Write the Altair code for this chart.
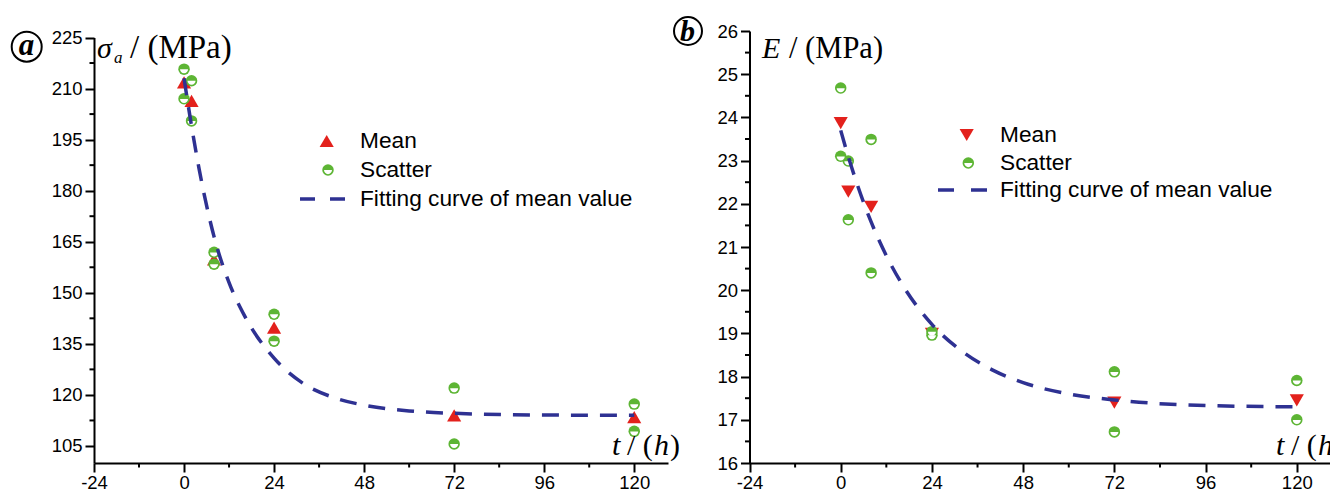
import altair as alt
import pandas as pd

# ---------------- data ----------------
t_pts = [0, 0, 2, 2, 8, 8, 24, 24, 72, 72, 120, 120]
t_mean = [0, 2, 8, 24, 72, 120]
t_fit = [0, 2, 4, 8, 12, 16, 24, 32, 40, 48, 60, 72, 96, 120]

sigma_scatter = [215.7, 207.0, 212.3, 200.5, 161.9, 158.4, 143.7, 135.8, 122.0, 105.6, 117.3, 109.3]
sigma_mean = [211.8, 206.4, 159.8, 139.8, 114.0, 113.5]
sigma_fit = [213.0, 199.0, 186.5, 166.5, 153.0, 143.5, 130.8, 123.2, 119.2, 117.0, 115.3, 114.6, 114.1, 114.0]

E_scatter = [24.68, 23.10, 22.99, 21.63, 23.49, 20.40, 19.04, 18.96, 18.11, 16.72, 17.91, 17.00]
E_mean = [23.87, 22.28, 21.93, 18.99, 17.40, 17.45]
E_fit = [23.70, 23.09, 22.54, 21.58, 20.80, 20.16, 19.21, 18.58, 18.15, 17.86, 17.60, 17.46, 17.33, 17.30]

x_ticks = [-24, 0, 24, 48, 72, 96, 120]
x_minor = [-12, 12, 36, 60, 84, 108]
sigma_ticks = [105, 120, 135, 150, 165, 180, 195, 210, 225]
sigma_minor = [112.5, 127.5, 142.5, 157.5, 172.5, 187.5, 202.5, 217.5]
E_ticks = [16, 17, 18, 19, 20, 21, 22, 23, 24, 25, 26]
E_minor = [16.5, 17.5, 18.5, 19.5, 20.5, 21.5, 22.5, 23.5, 24.5, 25.5]

legend_labels = ["Mean", "Scatter", "Fitting curve of mean value"]

# ---------------- layout / style ----------------
PAD_L, PAD_T = 94, 31
W, H = 1236, 432
RED = "#e3211c"
GREEN = "#5db534"
BLUE = "#2e3192"
SANS = "Liberation Sans"
SERIF = "Liberation Serif"
HALF = "M-0.7,0.02A0.7,0.7,0,0,0,0.7,0.02Z"
MSIZE = 132
LEG = 22.7

common_axis = dict(
    domainColor="black", domainWidth=2, tickColor="black", tickWidth=2, tickSize=9,
    labelFont=SANS, labelFontSize=18.5, labelColor="black", grid=False, title=None,
    labelFlush=False, labelOverlap=False, labelExpr="toString(datum.value)",
)

xa_scale = alt.Scale(domain=[-24, 129], range=[0, 574], nice=False, zero=False)
ya_scale = alt.Scale(domain=[100, 225], range=[H, 6.5], nice=False, zero=False)
xb_scale = alt.Scale(domain=[-24, 129], range=[655.5, 1237], nice=False, zero=False)
yb_scale = alt.Scale(domain=[16, 26], range=[H, 0], nice=False, zero=False)

xa_axis = alt.Axis(values=x_ticks, orient="bottom", labelPadding=1, **common_axis)
ya_axis = alt.Axis(values=sigma_ticks, orient="left", labelPadding=3, **common_axis)
xb_axis = alt.Axis(values=x_ticks, orient="bottom", labelPadding=1, **common_axis)
yb_axis = alt.Axis(values=E_ticks, orient="left", labelPadding=3, offset=-655.5, **common_axis)


def panel(scatter, mean, fit, y_minor, xs, xax, ys, yax, mean_shape, y_axis_px):
    X = alt.X("t:Q", scale=xs, axis=xax)
    Y = alt.Y("v:Q", scale=ys, axis=yax)
    df_s = pd.DataFrame({"t": t_pts, "v": scatter})
    df_m = pd.DataFrame({"t": t_mean, "v": mean})
    df_f = pd.DataFrame({"t": t_fit, "v": fit})
    m = alt.Chart(df_m).mark_point(shape=mean_shape, filled=True, color=RED, size=200, opacity=1).encode(x=X, y=Y)
    s1 = alt.Chart(df_s).mark_point(shape="circle", filled=True, color=GREEN, size=MSIZE, opacity=1).encode(x=X, y=Y)
    s2 = alt.Chart(df_s).mark_point(shape=HALF, filled=True, color="white", size=MSIZE, opacity=1).encode(x=X, y=Y)
    f = alt.Chart(df_f).mark_line(color=BLUE, strokeWidth=3.5, strokeDash=[17, 12], interpolate="monotone").encode(x=X, y=Y)
    xm = alt.Chart(pd.DataFrame({"t": x_minor})).mark_rule(color="black", strokeWidth=2).encode(
        x=X, y=alt.value(H), y2=alt.value(H + 4.5))
    ym = alt.Chart(pd.DataFrame({"v": y_minor})).mark_rule(color="black", strokeWidth=2).encode(
        y=Y, x=alt.value(y_axis_px), x2=alt.value(y_axis_px - 4.5))
    return alt.layer(m, s1, s2, f, xm, ym)


pa = panel(sigma_scatter, sigma_mean, sigma_fit, sigma_minor, xa_scale, xa_axis, ya_scale, ya_axis, "triangle-up", 0)
pb = panel(E_scatter, E_mean, E_fit, E_minor, xb_scale, xb_axis, yb_scale, yb_axis, "triangle-down", 655.5)

one = pd.DataFrame({"k": [0]})


def txt(s, x, y, size, font=SANS, style="normal", weight="normal", align="left", baseline="alphabetic"):
    return alt.Chart(one).mark_text(
        text=s, font=font, fontSize=size, fontStyle=style, fontWeight=weight,
        align=align, baseline=baseline, color="black",
    ).encode(x=alt.value(x - PAD_L), y=alt.value(y - PAD_T))


def pt(x, y, shape, color, size, filled=True, sw=0):
    kw = dict(shape=shape, size=size, opacity=1)
    if filled:
        kw.update(filled=True, color=color)
    else:
        kw.update(filled=False, stroke=color, strokeWidth=sw)
    return alt.Chart(one).mark_point(**kw).encode(x=alt.value(x - PAD_L), y=alt.value(y - PAD_T))


def dash(x1, x2, y, pattern):
    return alt.Chart(one).mark_rule(color=BLUE, strokeWidth=3.5, strokeDash=pattern).encode(
        x=alt.value(x1 - PAD_L), x2=alt.value(x2 - PAD_L), y=alt.value(y - PAD_T))


def t_label(x0, y0):
    return [
        txt("t", x0, y0, 30, font=SERIF, style="italic"),
        txt("/ (", x0 + 15, y0, 30, font=SERIF),
        txt("h", x0 + 42, y0, 30, font=SERIF, style="italic"),
        txt(")", x0 + 58, y0, 30, font=SERIF),
    ]


ann = [
    # panel labels
    pt(26.7, 46.7, "circle", "black", 900, filled=False, sw=2),
    txt("a", 26.5, 55, 31, font=SERIF, style="italic", weight="bold", align="center"),
    pt(688, 31, "circle", "black", 784, filled=False, sw=2),
    txt("b", 687.5, 41, 30, font=SERIF, style="italic", weight="bold", align="center"),
    # axis titles panel a
    txt("σ", 97, 58, 30, font=SERIF, style="italic"),
    txt("a", 114, 63, 17, font=SERIF, style="italic"),
    txt("/ (MPa)", 130, 58, 33, font=SERIF),
    # axis titles panel b
    txt("E", 762, 58, 30, font=SERIF, style="italic"),
    txt("/ (MPa)", 789, 58, 30.5, font=SERIF),
    # legend panel a
    pt(326.7, 141, "triangle-up", RED, 200),
    pt(328, 170, "circle", GREEN, MSIZE),
    pt(328, 170, HALF, "white", MSIZE),
    dash(300, 345, 199, [15, 15]),
    txt(legend_labels[0], 360, 141, LEG, baseline="middle"),
    txt(legend_labels[1], 360, 170, LEG, baseline="middle"),
    txt(legend_labels[2], 360, 199, LEG, baseline="middle"),
    # legend panel b
    pt(966.7, 135, "triangle-down", RED, 200),
    pt(968.3, 163, "circle", GREEN, MSIZE),
    pt(968.3, 163, HALF, "white", MSIZE),
    dash(938, 987, 190, [16, 17]),
    txt(legend_labels[0], 1000, 135, LEG, baseline="middle"),
    txt(legend_labels[1], 1000, 163, LEG, baseline="middle"),
    txt(legend_labels[2], 1000, 190, LEG, baseline="middle"),
] + t_label(612, 455) + t_label(1276, 455)

chart = (
    alt.layer(pa, pb, *ann)
    .resolve_scale(x="independent", y="independent")
    .properties(
        width=W, height=H,
        padding={"left": PAD_L, "top": PAD_T, "right": 0, "bottom": 494 - PAD_T - H},
        autosize=alt.AutoSizeParams(type="none"),
        background="white",
    )
    .configure_view(stroke=None)
)

chart.save("out.html", embed_options={"renderer": "svg", "actions": False})
